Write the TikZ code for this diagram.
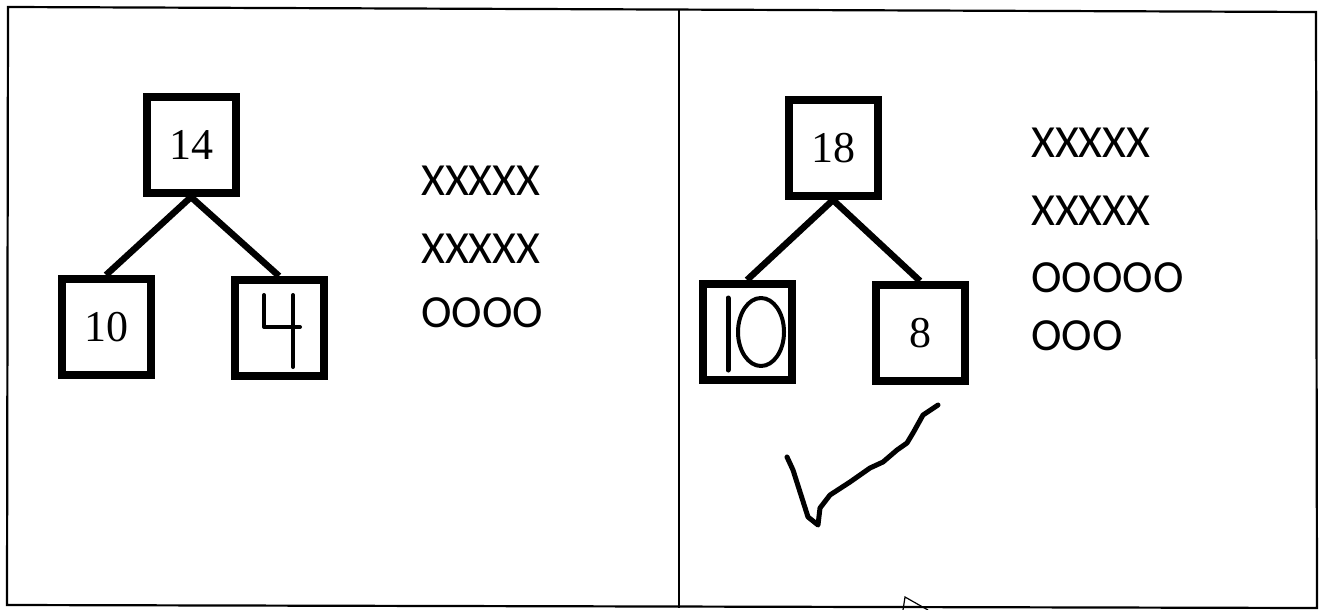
\documentclass[tikz,border=0pt]{standalone}
\usepackage{fontspec}
\setmainfont{Liberation Serif}
\newfontfamily\rowfont{Carlito}
\begin{document}
\begin{tikzpicture}[x=1pt,y=-1pt,
  numbox/.style={draw, line width=8pt, minimum width=89pt, minimum height=96pt, inner sep=0pt, font=\fontsize{44}{52}\selectfont},
  link/.style={line width=6.5pt},
  hand/.style={line width=4pt, line cap=round, line join=round},
  rowtxt/.style={anchor=base west, inner sep=0pt, font=\rowfont\fontsize{46}{54}\selectfont},
  frame/.style={line width=2.2pt}]
\useasboundingbox (0,0) rectangle (1322,610);
% frame
\coordinate (tl) at (8,7);
\coordinate (tr) at (1316,12);
\coordinate (br) at (1317,608);
\coordinate (bl) at (7,605);
\coordinate (dt) at (679,10);
\coordinate (db) at (679,608);
\draw[frame] (tl) -- (tr) -- (br) -- (bl) -- cycle;
\draw[frame] (dt) -- (db);
% left tree
\node[numbox] (n14) at (191,145) {14};
\node[numbox] (n10) at (106,327) {10};
\node[numbox] (n4) at (279,328) {};
\draw[link] (n14.south) -- (n10.north);
\draw[link] (n14.south) -- (n4.north);
\draw[hand] ([shift={(-15,-33)}]n4.center) -- ([shift={(-15,-1)}]n4.center) -- ([shift={(21,-1)}]n4.center);
\draw[hand] ([shift={(14,-33)}]n4.center) -- ([shift={(14,39)}]n4.center);
% left rows
\node[rowtxt] (l1) at (421,195) {XXXXX};
\node[rowtxt] (l2) at (421,263) {XXXXX};
\node[rowtxt] (l3) at (421,327) {OOOO};
% right tree
\node[numbox] (n18) at (833,148) {18};
\node[numbox] (m10) at (747,332) {};
\node[numbox] (n8) at (920,333) {8};
\draw[link] (n18.south) -- (m10.north);
\draw[link] (n18.south) -- (n8.north);
\draw[hand, line width=5pt] ([shift={(-19,-34)}]m10.center) -- ([shift={(-19,38)}]m10.center);
\draw[hand] ([shift={(14,0)}]m10.center) ellipse [x radius=23, y radius=34];
% right rows
\node[rowtxt] (r1) at (1031,157) {XXXXX};
\node[rowtxt] (r2) at (1031,225) {XXXXX};
\node[rowtxt] (r3) at (1031,292) {OOOOO};
\node[rowtxt] (r4) at (1031,350) {OOO};
% check mark
\draw[hand, line width=5pt] (787,457) -- (793,470) -- (808,517) -- (818,525) -- (820,508) -- (830,495) -- (850,482) -- (870,468) -- (883,462) -- (897,450) -- (907,443) -- (913,433) -- (923,415) -- (938,405);
% partial triangle at bottom
\coordinate (ta) at (905,597);
\coordinate (tb) at (903,610);
\coordinate (tc) at (928,610);
\draw[line width=1.2pt] (tb) -- (ta) -- (tc);
\end{tikzpicture}
\end{document}
